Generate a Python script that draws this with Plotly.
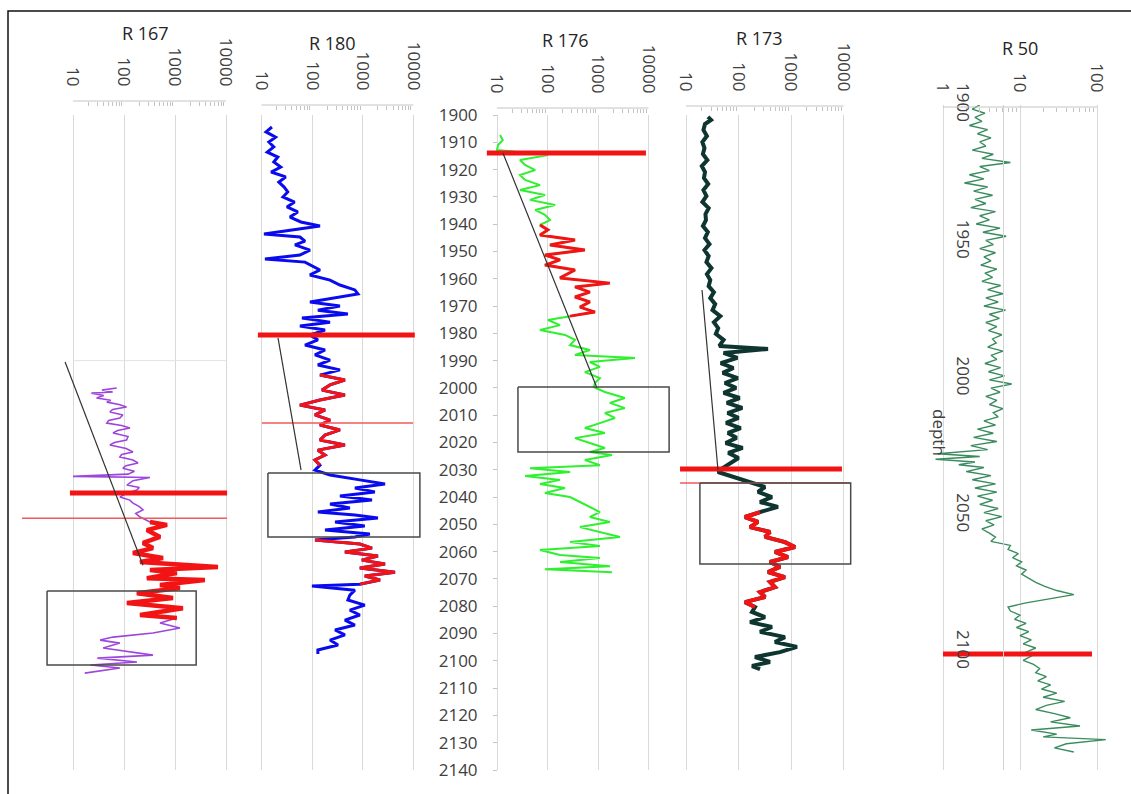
import plotly.graph_objects as go

W, H = 1131, 794
FONT = "Open Sans, Lato, DejaVu Sans, sans-serif"

# ---------------- data ----------------
# R 167 (resistivity vs depth)
r167_depth = [2000.0, 2000.8, 2001.5, 2001.9, 2002.8, 2003.7, 2004.5, 2005.2, 2006.1, 2007.0,
              2007.9, 2008.8, 2009.9, 2011.0, 2011.9, 2012.9, 2013.8, 2014.7, 2015.6, 2016.5,
              2017.8, 2019.1, 2020.0, 2020.9, 2022.2, 2023.5, 2024.4, 2025.3, 2026.4, 2027.5,
              2028.5, 2029.4, 2030.5, 2031.6, 2032.4, 2032.8, 2034.0, 2035.6, 2036.5, 2037.4,
              2038.7, 2040.0, 2041.1, 2042.2, 2043.5, 2044.7, 2046.0, 2047.3, 2048.2, 2049.1,
              2050.2, 2052.1, 2054.6, 2056.8, 2058.7, 2060.5, 2062.3, 2063.8, 2065.6, 2066.7,
              2067.8, 2069.7, 2070.4, 2072.2, 2073.3, 2075.2, 2077.0, 2078.8, 2080.7, 2083.2,
              2084.3, 2086.1, 2088.0, 2089.8, 2091.3, 2092.4, 2093.5, 2095.3, 2097.9, 2099.0,
              2100.4, 2101.5, 2102.6, 2104.5]
r167_res = [72, 37, 60, 23, 40, 29, 55, 46, 80, 112,
            60, 53, 95, 83, 50, 46, 90, 131, 75, 61,
            120, 112, 65, 53, 110, 150, 90, 83, 150, 188,
            110, 95, 160, 120, 10, 323, 150, 114, 200, 179,
            110, 83, 130, 150, 200, 236, 170, 206, 260, 323,
            697, 281, 508, 236, 370, 150, 582, 206, 6960, 323,
            1090, 281, 3850, 508, 1250, 179, 914, 114, 1430, 206,
            1090, 508, 1250, 370, 61, 34, 83, 39, 370, 30,
            179, 22, 83, 17]
r167_red_range = [2049.0, 2085.0]

# R 180
r180_depth = [1904.4, 1906.2, 1908.1, 1909.9, 1911.7, 1913.6, 1915.4, 1917.2, 1919.1, 1920.9,
              1922.7, 1924.6, 1926.4, 1928.2, 1930.0, 1931.9, 1933.7, 1935.5, 1937.4, 1939.2,
              1940.7, 1942.1, 1943.6, 1944.7, 1946.2, 1947.6, 1949.5, 1951.3, 1952.8, 1953.9,
              1955.3, 1956.8, 1958.6, 1960.5, 1962.3, 1964.1, 1965.6, 1967.1, 1968.5, 1970.0,
              1971.5, 1972.9, 1974.4, 1975.9, 1977.3, 1978.8, 1980.6, 1982.4, 1984.3, 1986.1,
              1987.9, 1989.8, 1991.6, 1993.4, 1995.3, 1997.1, 1998.9, 2000.8, 2002.6, 2004.4,
              2006.3, 2008.1, 2009.9, 2011.8, 2013.6, 2015.4, 2017.3, 2019.1, 2020.9, 2022.8,
              2024.6, 2026.4, 2028.3, 2030.1, 2031.9, 2033.7, 2035.2, 2036.7, 2038.1, 2039.6,
              2041.1, 2042.5, 2044.0, 2045.5, 2046.6, 2047.7, 2049.1, 2050.6, 2052.1, 2053.5,
              2054.6, 2055.7, 2057.2, 2058.7, 2060.1, 2061.6, 2063.1, 2064.5, 2066.0, 2067.5,
              2068.9, 2070.4, 2071.9, 2072.6, 2074.1, 2075.9, 2077.7, 2079.6, 2081.4, 2083.2,
              2085.1, 2086.9, 2088.7, 2090.5, 2092.4, 2094.2, 2096.0, 2097.5]
r180_res = [16.1, 12.3, 19.0, 14.0, 17.5, 13.0, 21.0, 17.5, 24.0, 15.5,
            30.0, 22.0, 28.0, 33.0, 26.6, 45.0, 31.9, 52.0, 36.6, 60.0,
            143, 42, 11.2, 57.5, 72.4, 45.9, 90.7, 57.5, 11.7, 72.4,
            99.3, 143, 90.7, 226, 355, 700, 807, 284, 90.7, 355,
            130, 510, 63, 226, 57.5, 180, 90.7, 130, 72.4, 180,
            114, 226, 130, 355, 143, 445, 226, 157, 445, 143,
            57.5, 180, 114, 226, 143, 355, 180, 143, 445, 130,
            180, 114, 143, 114, 226, 877, 2760, 700, 1740, 355,
            1527, 226, 558, 130, 700, 2000, 284, 1100, 180, 1385,
            700, 114, 877, 1527, 445, 2000, 962, 2760, 877, 4350,
            1100, 2200, 877, 99.3, 700, 558, 510, 1100, 558, 877,
            445, 700, 284, 445, 226, 325, 130, 130]
r180_red_ranges = [[1994.0, 2028.3], [2055.0, 2072.0]]

# R 176
r176_depth = [1907.3, 1909.2, 1911.0, 1912.8, 1914.7, 1916.5, 1918.3, 1920.2, 1922.0, 1923.8,
              1925.7, 1927.5, 1929.3, 1931.1, 1933.0, 1934.8, 1936.6, 1938.5, 1940.3, 1942.1,
              1944.0, 1945.8, 1947.6, 1949.5, 1951.3, 1953.1, 1955.0, 1956.8, 1959.7, 1961.6,
              1963.0, 1964.9, 1966.7, 1968.5, 1970.4, 1972.2, 1973.7, 1975.1, 1977.0, 1978.8,
              1980.6, 1982.4, 1984.3, 1986.1, 1987.9, 1989.0, 1990.5, 1992.3, 1994.2, 1996.4,
              1998.2, 1999.7, 2001.5, 2003.7, 2005.5, 2007.4, 2009.2, 2011.0, 2012.9, 2014.7,
              2016.5, 2018.4, 2020.2, 2022.0, 2023.5, 2024.6, 2026.4, 2028.3, 2029.4, 2030.8,
              2032.3, 2033.7, 2035.2, 2036.7, 2038.5, 2040.0, 2041.8, 2043.6, 2045.5, 2047.3,
              2049.1, 2051.0, 2052.8, 2054.6, 2056.5, 2057.9, 2059.4, 2061.2, 2062.3, 2063.8,
              2065.3, 2066.4, 2067.5]
r176_res = [11.5, 13, 10.5, 10, 102, 28.5, 36, 57, 28.5, 36,
            71, 28.5, 89, 45, 141, 57, 89, 112, 71, 102,
            71, 350, 112, 550, 89, 177, 89, 350, 177, 1720,
            350, 690, 350, 690, 440, 870, 279, 102, 177, 71,
            222, 350, 279, 690, 350, 5400, 690, 1090, 550, 1090,
            870, 830, 1370, 3400, 1720, 3400, 1370, 2160, 1090, 550,
            1370, 350, 690, 1370, 690, 1890, 550, 1090, 45, 279,
            36, 177, 71, 222, 89, 279, 440, 690, 1090, 690,
            1720, 440, 1090, 2720, 279, 1090, 71, 177, 1090, 177,
            1720, 89, 1890]
r176_red_range = [1940.0, 1974.0]

# R 173
r173_depth = [1900.7, 1901.8, 1903.3, 1905.5, 1907.7, 1909.9, 1912.1, 1914.3, 1916.5, 1918.7,
              1920.9, 1923.1, 1925.3, 1927.5, 1929.7, 1931.9, 1934.1, 1936.3, 1938.5, 1940.7,
              1942.9, 1945.1, 1947.3, 1949.5, 1951.7, 1953.9, 1956.1, 1958.3, 1960.5, 1962.7,
              1964.9, 1967.1, 1969.3, 1971.5, 1973.7, 1975.9, 1978.1, 1980.2, 1982.4, 1984.6,
              1985.7, 1987.2, 1989.0, 1990.9, 1992.7, 1994.5, 1996.4, 1998.2, 2000.0, 2001.8,
              2003.7, 2005.5, 2007.3, 2009.2, 2011.0, 2012.8, 2014.7, 2016.5, 2018.3, 2020.2,
              2022.0, 2023.8, 2025.7, 2027.5, 2029.4, 2030.8, 2032.7, 2034.5, 2036.3, 2038.1,
              2040.0, 2041.8, 2043.6, 2045.5, 2047.3, 2049.1, 2051.0, 2052.8, 2054.6, 2056.5,
              2058.3, 2060.1, 2062.0, 2063.8, 2065.6, 2067.5, 2069.3, 2071.1, 2073.0, 2074.8,
              2076.6, 2078.5, 2080.3, 2082.1, 2084.0, 2085.8, 2087.6, 2089.4, 2091.3, 2093.1,
              2094.9, 2096.8, 2098.6, 2100.4, 2101.9, 2103.0]
r173_res = [26.2, 30.0, 23.0, 21.5, 25.0, 20.5, 22.5, 21.0, 25.5, 20.0,
            23.0, 22.0, 26.5, 21.5, 24.5, 20.5, 27.0, 23.5, 24.0, 21.0,
            26.0, 23.0, 28.0, 22.5, 27.0, 24.5, 30.5, 25.0, 29.0, 27.0,
            34.0, 29.0, 36.0, 32.0, 45.0, 34.0, 41.0, 37.0, 52.0, 43.0,
            365, 52.0, 95.0, 46.0, 80.0, 50.0, 97.0, 55.0, 90.0, 52.0,
            105, 60.0, 118, 62.0, 100, 58.0, 110, 63.0, 92.0, 57.0,
            120, 64.0, 100, 68.8, 50.0, 40.6, 85.9, 166, 320, 235,
            434, 257, 565, 257, 133, 235, 166, 398, 320, 767,
            1190, 495, 876, 398, 616, 365, 767, 398, 495, 257,
            320, 133, 206, 181, 320, 166, 434, 257, 767, 495,
            1300, 616, 206, 398, 181, 257]
r173_red_range = [2045.0, 2081.0]

# R 50
r50_depth = [1900.0, 1901.5, 1903.0, 1904.5, 1906.0, 1907.5, 1909.0, 1910.5, 1912.0, 1913.5,
             1915.0, 1916.5, 1918.0, 1919.5, 1921.0, 1922.5, 1924.0, 1925.5, 1927.0, 1928.5,
             1930.0, 1931.5, 1933.0, 1934.5, 1936.0, 1937.5, 1939.0, 1940.5, 1942.0, 1943.5,
             1945.0, 1946.5, 1948.0, 1949.5, 1951.0, 1952.5, 1954.0, 1955.5, 1957.0, 1958.5,
             1960.0, 1961.5, 1963.0, 1964.5, 1966.0, 1967.5, 1969.0, 1970.5, 1972.0, 1973.5,
             1975.0, 1976.5, 1978.0, 1979.5, 1981.0, 1982.5, 1984.0, 1985.5, 1987.0, 1988.5,
             1990.0, 1991.5, 1993.0, 1994.5, 1996.0, 1997.5, 1999.0, 2000.5, 2002.0, 2003.5,
             2005.0, 2006.5, 2008.0, 2009.5, 2011.0, 2012.5, 2014.0, 2015.5, 2017.0, 2018.5,
             2020.0, 2021.5, 2023.0, 2024.5, 2026.0, 2027.5, 2028.5, 2029.5, 2030.5, 2031.5,
             2032.5, 2034.0, 2035.5, 2037.0, 2038.5, 2040.0, 2041.5, 2043.0, 2044.5, 2046.0,
             2047.5, 2049.0, 2050.5, 2052.0, 2053.5, 2055.0, 2056.5, 2058.0, 2059.5, 2061.0,
             2062.5, 2064.0, 2065.5, 2067.0, 2068.5, 2070.0, 2071.5, 2073.0, 2074.5, 2076.0,
             2077.5, 2079.0, 2080.5, 2082.0, 2083.5, 2085.0, 2086.5, 2088.0, 2089.5, 2091.0,
             2092.5, 2094.0, 2095.5, 2097.0, 2098.5, 2100.0, 2101.5, 2103.0, 2104.5, 2106.0,
             2107.5, 2109.0, 2110.5, 2112.0, 2113.5, 2115.0, 2116.5, 2118.0, 2119.5, 2121.0,
             2122.5, 2124.0, 2125.5, 2127.0, 2128.5, 2130.0, 2131.0, 2132.0, 2133.5, 2135.0,
             2136.5]
r50_res = [3.0, 2.4, 3.5, 2.6, 3.2, 2.2, 3.8, 2.8, 4.2, 3.0,
           3.6, 2.4, 4.5, 3.2, 7.5, 3.0, 4.0, 2.2, 3.4, 1.9,
           3.8, 2.5, 4.4, 2.6, 3.6, 2.3, 4.8, 3.0, 4.0, 2.7,
           5.5, 3.3, 6.6, 3.6, 4.5, 3.0, 4.8, 3.4, 4.2, 3.1,
           5.0, 3.5, 4.4, 3.2, 5.6, 3.8, 6.0, 3.6, 5.2, 3.4,
           6.5, 4.0, 5.4, 3.6, 5.0, 3.9, 5.8, 4.4, 4.9, 3.8,
           6.0, 4.2, 5.0, 3.5, 5.6, 3.9, 6.3, 4.0, 7.8, 4.2,
           5.5, 3.6, 5.0, 4.0, 6.0, 4.5, 5.2, 3.4, 4.8, 2.8,
           4.5, 2.5, 5.0, 2.3, 3.8, 0.85, 3.0, 0.8, 2.6, 1.6,
           3.4, 2.0, 4.2, 2.4, 4.8, 2.6, 5.0, 2.8, 4.4, 3.0,
           5.2, 3.4, 5.8, 3.6, 4.6, 3.2, 4.0, 4.8, 4.2, 7.5,
           7.0, 9.5, 8.0, 10.5, 9.0, 12, 10.5, 13, 16, 21,
           30, 50, 25, 12, 7.0, 7.5, 10, 8.5, 12, 9,
           13, 10, 14, 11, 16, 12, 14, 11, 15, 18,
           16, 22, 17, 25, 19, 30, 20, 38, 22, 16,
           28, 45, 25, 60, 14, 30, 20, 130, 40, 28,
           50]

# marker lines: [depth, res_from, res_to]
thick_red = {1: [2038.5, 8.7, 10500], 2: [1980.6, 8.5, 10700], 3: [1913.9, 6.3, 8900],
             4: [2029.7, 7.7, 9350], 5: [2100.7, 1.0, 86]}
thin_red = {1: [2047.8, 1.0, 10500], 2: [2012.9, 10.2, 9900], 4: [2034.8, 7.7, 13300]}
# correlation lines: [res_top, depth_top, res_bottom, depth_bottom]
trend_lines = {1: [7.0, 1990.5, 236, 2065.0], 2: [21.2, 1981.7, 60.5, 2030.1],
               3: [13.1, 1913.9, 955, 2000.0], 4: [20.2, 1964.1, 40.6, 2030.1]}
# boxes: [res_left, res_right, depth_top, depth_bottom]
boxes = {1: [3.1, 2600, 2074.4, 2101.5], 2: [13.4, 13500, 2031.2, 2054.6],
         3: [26, 25600, 1999.7, 2023.5], 4: [18.4, 13700, 2034.8, 2064.5]}
r167_top_line = [1990.0, 10, 10000]
titles = ["R 167", "R 180", "R 176", "R 173", "R 50"]
depth_ticks_r50 = [1900, 1950, 2000, 2050, 2100]

# ---------------- layout helpers (pixel calibration) ----------------
panels = {
    1: dict(L=18, R=232, p0=73, dw=51.0, lo=1, axis_y=101, title=(145, 33)),
    2: dict(L=255, R=425, p0=261.5, dw=50.6, lo=1, axis_y=105, title=(332, 43)),
    3: dict(L=484, R=675, p0=497, dw=50.5, lo=1, axis_y=108, title=(565, 40)),
    4: dict(L=676, R=858, p0=686, dw=52.5, lo=1, axis_y=106, title=(759, 38)),
    5: dict(L=930, R=1115, p0=943, dw=77.0, lo=0, axis_y=107, title=(1020, 48)),
}

RED = "#f21414"
GRID = "#d9d9d9"

fig = go.Figure()


def ax_names(i):
    xa = "x" if i == 1 else "x%d" % i
    ya = "y2" if i == 5 else "y"
    return xa, ya


def add(i, x, y, color, width):
    xa, ya = ax_names(i)
    fig.add_trace(go.Scatter(x=x, y=y, xaxis=xa, yaxis=ya, mode="lines",
                             line=dict(color=color, width=width), hoverinfo="skip",
                             showlegend=False))


def subset(depths, vals, lo, hi):
    pts = [(d, v) for d, v in zip(depths, vals) if lo <= d <= hi]
    return [p[1] for p in pts], [p[0] for p in pts]


# faint line in R167
add(1, [r167_top_line[1], r167_top_line[2]], [r167_top_line[0]] * 2, "#e3e3e3", 1)

# curves
add(1, r167_res, r167_depth, "#9d45dd", 1.6)
x, y = subset(r167_depth, r167_res, *r167_red_range)
add(1, x, y, RED, 4.5)

add(2, r180_res, r180_depth, "#0a0aee", 3)
for rng in r180_red_ranges:
    x, y = subset(r180_depth, r180_res, *rng)
    add(2, x, y, RED, 3)

add(3, r176_res, r176_depth, "#2ef02e", 2)
x, y = subset(r176_depth, r176_res, *r176_red_range)
add(3, x, y, RED, 3)

add(4, r173_res, r173_depth, "#0e3530", 4)
x, y = subset(r173_depth, r173_res, *r173_red_range)
add(4, x, y, RED, 4)

add(5, r50_res, r50_depth, "#3a8c5e", 1.4)

# marker lines
for i, (d, a, b) in thin_red.items():
    add(i, [a, b], [d, d], "#f05a5a", 1.5)
for i, (d, a, b) in thick_red.items():
    add(i, [a, b], [d, d], RED, 5)
for i, (x0, y0, x1, y1) in trend_lines.items():
    add(i, [x0, x1], [y0, y1], "#333333", 1.2)
for i, (x0, x1, y0, y1) in boxes.items():
    add(i, [x0, x1, x1, x0, x0], [y0, y0, y1, y1, y0], "#4a4a4a", 1.5)

layout = dict(width=W, height=H, margin=dict(l=0, r=0, t=0, b=0, pad=0), autosize=False,
              paper_bgcolor="white", plot_bgcolor="rgba(0,0,0,0)", showlegend=False,
              font=dict(family=FONT, color="#333333"))

shapes = []
annotations = []
for i, p in panels.items():
    xa, ya = ax_names(i)
    key = "xaxis" if i == 1 else "xaxis%d" % i
    if p["lo"] == 1:
        major = [10, 100, 1000, 10000]
        minor = [k * 10 ** e for e in (1, 2, 3) for k in range(2, 10)]
    else:
        major = [1, 10, 100]
        minor = [k * 10 ** e for e in (0, 1) for k in range(2, 10)]
    layout[key] = dict(
        type="log", domain=[p["L"] / W, p["R"] / W], automargin=False,
        range=[p["lo"] + (p["L"] - p["p0"]) / p["dw"], p["lo"] + (p["R"] - p["p0"]) / p["dw"]],
        anchor="free", position=1 - p["axis_y"] / H, side="top",
        tickmode="array", tickvals=major, ticktext=[str(v) for v in major],
        tickangle=90, ticks="", showline=False, zeroline=False,
        showgrid=True, gridcolor=GRID, gridwidth=1,
        tickfont=dict(family=FONT, size=17, color="#404040"),
        ticklabelstandoff=12,
        minor=dict(tickmode="array", tickvals=minor, ticks="inside", ticklen=4,
                   tickcolor="#c4c4c4", showgrid=False),
    )
    shapes.append(dict(type="line", xref=xa, yref="paper", x0=major[0], x1=major[-1],
                       y0=1 - p["axis_y"] / H, y1=1 - p["axis_y"] / H,
                       line=dict(color="#c4c4c4", width=1)))
    tx, ty = p["title"]
    annotations.append(dict(text=titles[i - 1], x=tx / W, y=1 - ty / H, xref="paper", yref="paper",
                            showarrow=False, xanchor="center", yanchor="middle",
                            font=dict(family=FONT, size=18, color="#262626")))

layout["yaxis"] = dict(domain=[1 - 770 / H, 1 - 115 / H], range=[2140, 1900], automargin=False,
                       anchor="free", position=497 / W, side="left",
                       tickmode="linear", tick0=1900, dtick=10,
                       showline=True, linecolor="#c4c4c4", ticks="outside", ticklen=4,
                       tickcolor="#c4c4c4", showgrid=False, zeroline=False,
                       tickfont=dict(family=FONT, size=17, color="#404040"),
                       ticklabelstandoff=12)
layout["yaxis2"] = dict(domain=[1 - 770 / H, 1 - 105 / H], range=[2143.1, 1900], automargin=False,
                        anchor="free", position=1003 / W, side="left",
                        tickmode="array", tickvals=depth_ticks_r50,
                        tickangle=90, showline=True, linecolor="#d4d4d4", ticks="",
                        showgrid=False, zeroline=False,
                        tickfont=dict(family=FONT, size=17, color="#404040"),
                        ticklabelstandoff=26)

annotations.append(dict(text="depth", x=940 / W, y=1 - 432 / H, xref="paper", yref="paper",
                        showarrow=False, textangle=90, xanchor="center", yanchor="middle",
                        font=dict(family=FONT, size=17, color="#404040")))

# outer frame
shapes.append(dict(type="rect", xref="paper", yref="paper", x0=8 / W, x1=1.01,
                   y0=-0.01, y1=1 - 11 / H, line=dict(color="#111111", width=1.5),
                   layer="below"))

layout["shapes"] = shapes
layout["annotations"] = annotations
fig.update_layout(**layout)
fig.write_html("out.html", config={"displayModeBar": False, "staticPlot": False},
               post_script="document.body.style.margin='0px';document.body.style.padding='0px';"
                           "document.body.style.overflow='hidden';")
